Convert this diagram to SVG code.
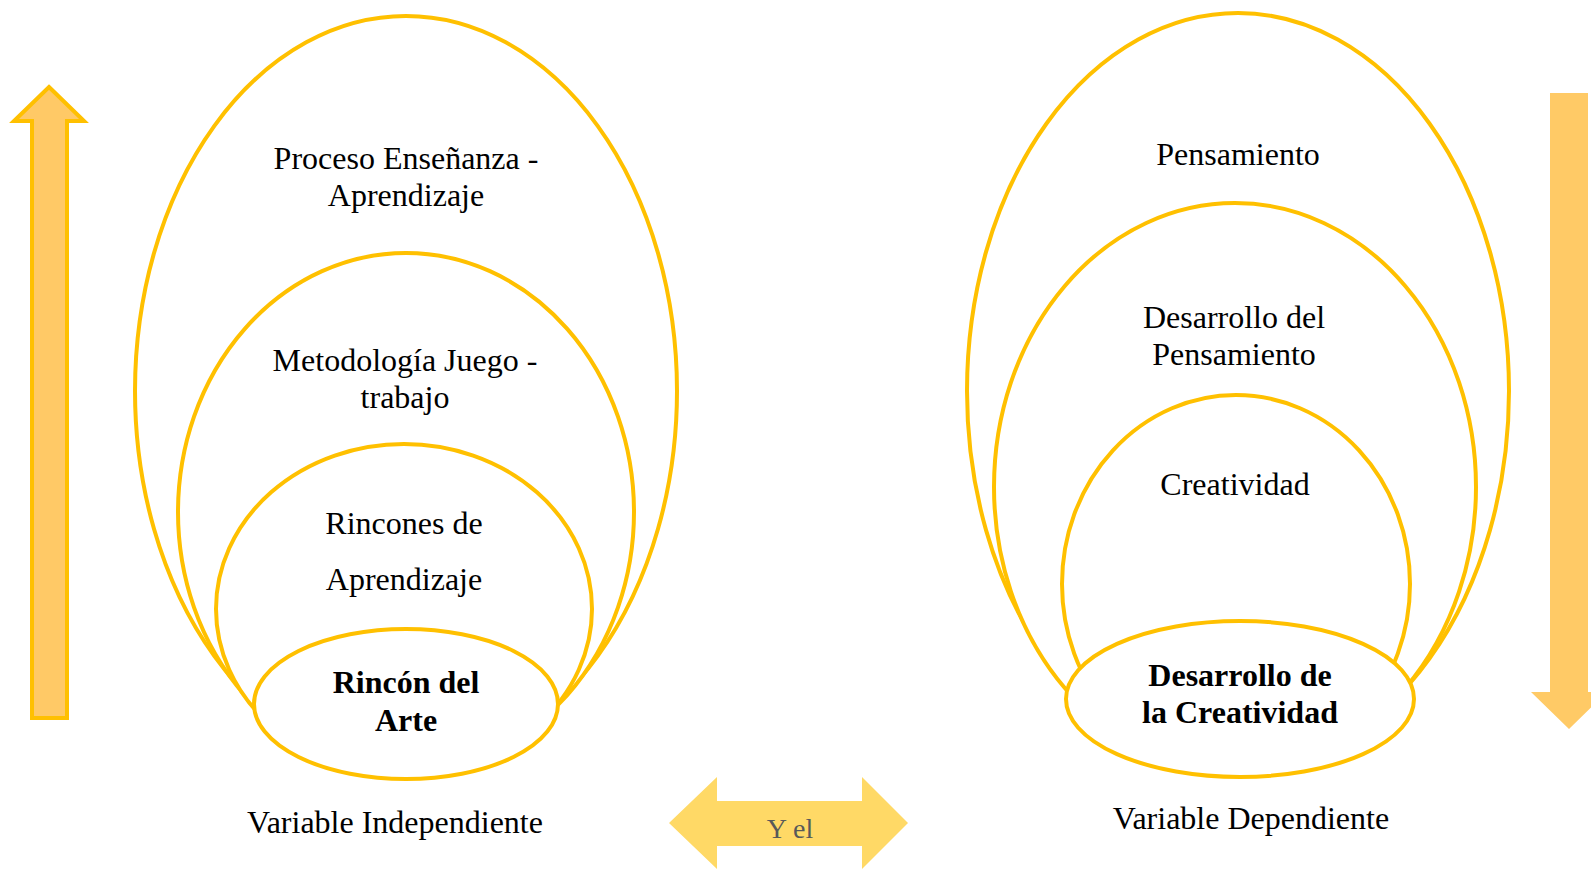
<svg xmlns="http://www.w3.org/2000/svg" width="1591" height="871" viewBox="0 0 1591 871">
<style>
.ring{fill:#FFFFFF;stroke:#FFC000;stroke-width:4}
.t{font-family:"Liberation Serif","Times New Roman",serif;font-size:32px;fill:#000000;text-anchor:middle}
.b{font-weight:bold}
</style>
<rect x="0" y="0" width="1591" height="871" fill="#FFFFFF"/>
<g id="connectors">
<polygon id="arrow-up" points="49,87 84,121 67,121 67,718 32,718 32,121 14,121" fill="#FFC966" stroke="#FFC000" stroke-width="4" stroke-linejoin="miter"/>
<polygon id="arrow-down" points="1550,93 1588,93 1588,692 1607,692 1569,729 1531,692 1550,692" fill="#FFCA66"/>
<polygon id="arrow-both" points="669,823 717,777 717,801 862,801 862,777 908,823 862,869 862,846 717,846 717,869" fill="#FFD966"/>
<text x="790" y="838" style="font-family:'Liberation Serif','Times New Roman',serif;font-size:28px;fill:#595959;text-anchor:middle">Y el</text>
</g>
<g id="left-outer">
<ellipse class="ring" cx="406" cy="391" rx="271" ry="375"/>
<text class="t" x="406" y="169">Proceso Enseñanza -</text>
<text class="t" x="406" y="206">Aprendizaje</text>
</g>
<g id="left-middle">
<ellipse class="ring" cx="406" cy="512" rx="228" ry="259"/>
<text class="t" x="405" y="371">Metodología Juego -</text>
<text class="t" x="405" y="408">trabajo</text>
</g>
<g id="left-inner">
<ellipse class="ring" cx="404" cy="609" rx="188" ry="165"/>
<text class="t" x="404" y="534">Rincones de</text>
<text class="t" x="404" y="590">Aprendizaje</text>
</g>
<g id="left-core">
<ellipse class="ring" cx="406" cy="704" rx="152" ry="75"/>
<text class="t b" x="406" y="693">Rincón del</text>
<text class="t b" x="406" y="731">Arte</text>
</g>
<g id="label-left">
<text class="t" x="395" y="833">Variable Independiente</text>
</g>
<g id="right-outer">
<ellipse class="ring" cx="1238" cy="391" rx="271" ry="378"/>
<text class="t" x="1238" y="165">Pensamiento</text>
</g>
<g id="right-middle">
<ellipse class="ring" cx="1235" cy="487" rx="241" ry="284"/>
<text class="t" x="1234" y="328">Desarrollo del</text>
<text class="t" x="1234" y="365">Pensamiento</text>
</g>
<g id="right-inner">
<ellipse class="ring" cx="1236" cy="584" rx="174" ry="189"/>
<text class="t" x="1235" y="495">Creatividad</text>
</g>
<g id="right-core">
<ellipse class="ring" cx="1240" cy="699" rx="174" ry="78"/>
<text class="t b" x="1240" y="686">Desarrollo de</text>
<text class="t b" x="1240" y="723">la Creatividad</text>
</g>
<g id="label-right">
<text class="t" x="1251" y="829">Variable Dependiente</text>
</g>
</svg>
